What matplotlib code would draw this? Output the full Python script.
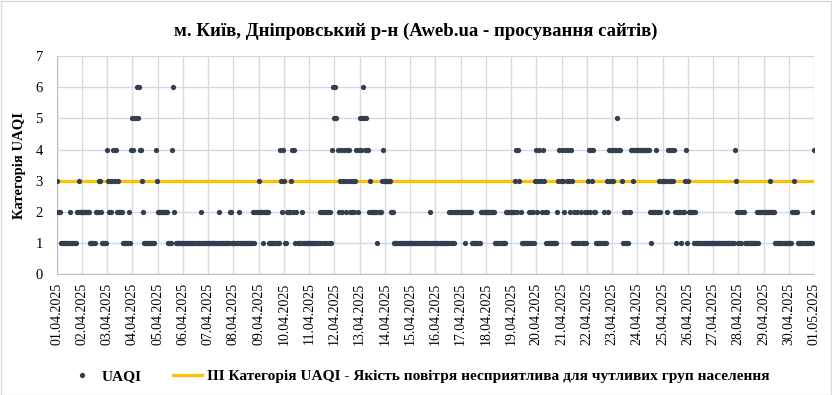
import matplotlib
matplotlib.use("Agg")
import matplotlib.pyplot as plt
import matplotlib.dates as mdates
import pandas as pd

# ---------------------------------------------------------------------------
# Data: hourly UAQI category, one 24-char string per day
# ---------------------------------------------------------------------------

START = "2025-04-01"
DAY_LEVELS = [
    "322211111111121111122322",  # 01.04
    "222222221111122233211111",  # 02.04
    "432323434232222111111214",  # 03.04
    "545565644321111111111143",  # 04.04
    "222222222211114621111111",  # 05.04
    "111111111111111112111111",  # 06.04
    "111111111121111111111221",  # 07.04
    "111112111111111111121222",  # 08.04
    "322212222211111111114324",  # 09.04
    "311222234241211112111111",  # 10.04
    "111111111121221212212146",  # 11.04
    "565423423432434232323424",  # 12.04
    "545654544232222221222343",  # 13.04
    "333333222111111111111111",  # 14.04
    "111111111111111111121111",  # 15.04
    "111111111111121212122222",  # 16.04
    "222212222221111111122222",  # 17.04
    "222222222111111111122222",  # 18.04
    "222234243211111112121213",  # 19.04
    "423432432121111111112343",  # 20.04
    "432443432431211211211121",  # 21.04
    "234243422111111121132434",  # 22.04
    "434445444312121122443444",  # 23.04
    "444444444444212222422323",  # 24.04
    "333324343434212222122341",  # 25.04
    "322222121111111111111111",  # 26.04
    "111111111111111111111432",  # 27.04
    "112122111111111111212222",  # 28.04
    "222222322221111111111111",  # 29.04
    "111223222111111111111112",  # 30.04
]
LAST_LEVEL = 4          # 01.05 00:00
THRESHOLD = 3           # III category

TITLE = "м. Київ, Дніпровський р-н (Aweb.ua - просування сайтів)"
Y_LABEL = "Категорія UAQI"
SERIES_LABEL = "UAQI"
LINE_LABEL = "ІІІ Категорія UAQI - Якість повітря несприятлива для чутливих груп населення"

DOT_COLOR = "#333F50"
LINE_COLOR = "#FFC000"

# ---------------------------------------------------------------------------
# Build series
# ---------------------------------------------------------------------------

values = [int(c) for day in DAY_LEVELS for c in day] + [LAST_LEVEL]
times = pd.date_range(START, periods=len(values), freq="h")

plt.rcParams["font.family"] = ["Liberation Serif", "DejaVu Serif"]

fig = plt.figure(figsize=(8.32, 3.95), dpi=100)
ax = fig.add_axes([0.0681, 0.3056, 0.9103, 0.5524])

ax.plot(times, [THRESHOLD] * len(times), color=LINE_COLOR, lw=2.3,
        zorder=2, label=LINE_LABEL)
ax.plot(times, values, linestyle="none", marker="o", markersize=3.8,
        color=DOT_COLOR, markeredgewidth=0, zorder=3, label=SERIES_LABEL)

ax.set_xlim(times[0], times[-1])
ax.set_ylim(0, 7)
ax.set_yticks(range(0, 8))

ax.xaxis.set_major_locator(mdates.DayLocator())
ax.xaxis.set_major_formatter(mdates.DateFormatter("%d.%m.%Y"))
plt.setp(ax.get_xticklabels(), rotation=90, fontsize=10)
plt.setp(ax.get_yticklabels(), fontsize=10.5)
ax.tick_params(axis="x", length=0, pad=6)
ax.tick_params(axis="y", length=0, pad=10)

ax.grid(axis="y", color="#D0D9EA", lw=1.0, zorder=0)
ax.grid(axis="x", color="#D9D9D9", lw=1.0, zorder=0)
ax.set_axisbelow(True)
for side in ("top", "right"):
    ax.spines[side].set_visible(False)
for side in ("left", "bottom"):
    ax.spines[side].set_color("#BFBFBF")

ax.set_ylabel(Y_LABEL, fontsize=10.5, fontweight="bold")
ax.yaxis.set_label_coords(-0.040, 0.5)

fig.text(0.500, 0.921, TITLE, ha="center", va="center",
         fontsize=13.5, fontweight="bold")

handles, labels = ax.get_legend_handles_labels()
fig.legend(handles[::-1], labels[::-1], loc="center", ncol=2,
           bbox_to_anchor=(0.503, 0.048), frameon=False,
           prop={"weight": "bold", "size": 11.1}, handlelength=1.9,
           columnspacing=2.0, handletextpad=0.3)

# light frame round the whole picture
fig.patches.append(plt.Rectangle((0.001, 0.001), 0.998, 0.997, fill=False,
                                 edgecolor="#D9D9D9", lw=1.0,
                                 transform=fig.transFigure))

fig.savefig("out.png", dpi=100)
